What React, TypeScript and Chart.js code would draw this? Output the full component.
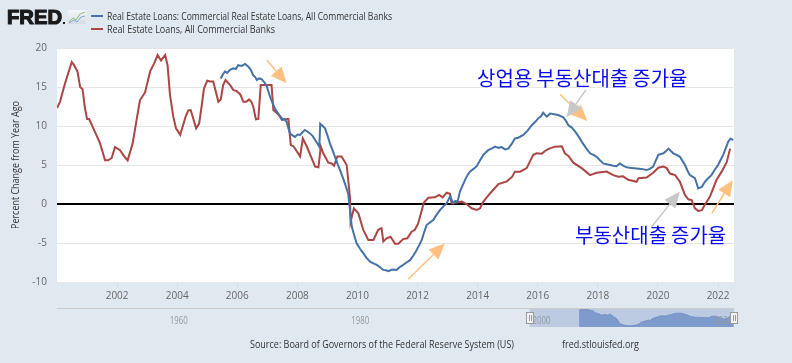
import React, { useEffect, useRef } from 'react';
import { Chart, registerables } from 'chart.js';
Chart.register(...registerables);

// ---------- data ----------
const seriesNames = [
  'Real Estate Loans: Commercial Real Estate Loans, All Commercial Banks',
  'Real Estate Loans, All Commercial Banks',
];
const seriesColors = ['#4572a7', '#aa4643'];

const X_MIN = 2000;
const X_MAX = 2022.53;
const Y_MIN = -10;
const Y_MAX = 20;
const Y_STEP = 5;
const xTickYears = [2002, 2004, 2006, 2008, 2010, 2012, 2014, 2016, 2018, 2020, 2022];

const NAV_MIN = 1947.9;
const NAV_MAX = 2022.53;
const navTickYears = [1960, 1980, 2000, 2020];
const navSelection = [2000, 2022.53];

const blueYears = [
  2005.45, 2005.52, 2005.59, 2005.66, 2005.76, 2005.87, 2005.95, 2006.03, 2006.15, 2006.26,
  2006.37, 2006.45, 2006.53, 2006.59, 2006.65, 2006.72, 2006.81, 2006.9, 2006.98, 2007.07,
  2007.11, 2007.25, 2007.36, 2007.48, 2007.56, 2007.64, 2007.75, 2007.84, 2007.92, 2008.0,
  2008.09, 2008.17, 2008.25, 2008.33, 2008.42, 2008.51, 2008.59, 2008.73, 2008.76, 2008.84,
  2008.92, 2009.0, 2009.08, 2009.17, 2009.25, 2009.33, 2009.42, 2009.5, 2009.58, 2009.69,
  2009.75, 2009.81, 2009.89, 2009.97, 2010.08, 2010.19, 2010.3, 2010.42, 2010.53, 2010.64,
  2010.75, 2010.86, 2010.95, 2011.03, 2011.15, 2011.3, 2011.4, 2011.52, 2011.63, 2011.75,
  2011.86, 2011.97, 2012.05, 2012.14, 2012.22, 2012.3, 2012.4, 2012.52, 2012.63, 2012.75,
  2012.86, 2012.97, 2013.08, 2013.19, 2013.26, 2013.33, 2013.41, 2013.5, 2013.58, 2013.66,
  2013.74, 2013.86, 2013.97, 2014.08, 2014.19, 2014.27, 2014.35, 2014.46, 2014.58, 2014.69,
  2014.8, 2014.91, 2015.02, 2015.13, 2015.24, 2015.35, 2015.52, 2015.66, 2015.8, 2015.91,
  2016.02, 2016.1, 2016.18, 2016.3, 2016.41, 2016.55, 2016.68, 2016.85, 2016.93, 2017.02,
  2017.13, 2017.24, 2017.35, 2017.46, 2017.6, 2017.74, 2017.85, 2017.96, 2018.07, 2018.18,
  2018.29, 2018.4, 2018.51, 2018.62, 2018.73, 2018.85, 2018.96, 2019.12, 2019.29, 2019.45,
  2019.62, 2019.73, 2019.84, 2019.93, 2020.01, 2020.1, 2020.18, 2020.27, 2020.35, 2020.43,
  2020.51, 2020.62, 2020.73, 2020.82, 2020.9, 2020.98, 2021.06, 2021.15, 2021.23, 2021.29,
  2021.34, 2021.4, 2021.46, 2021.56, 2021.67, 2021.78, 2021.89, 2022.0, 2022.08, 2022.17,
  2022.26, 2022.34, 2022.42, 2022.5,
];
const blueValues = [
  16.1, 16.6, 17.0, 16.8, 17.2, 17.4, 17.3, 17.8, 17.7, 17.95,
  17.6, 17.2, 16.5, 16.3, 15.9, 16.1, 16.0, 15.6, 15.1, 14.0,
  13.55, 12.25, 11.6, 10.8, 10.9, 10.55, 9.05, 8.8, 8.6, 8.9,
  8.85, 9.2, 9.5, 9.3, 9.05, 8.7, 8.2, 7.35, 10.3, 10.0,
  9.7, 8.8, 7.8, 6.9, 6.05, 5.2, 4.35, 3.5, 2.65, 1.35,
  -0.8, -2.9, -4.0, -5.05, -5.7, -6.3, -6.9, -7.4, -7.6, -7.8,
  -8.1, -8.45, -8.5, -8.6, -8.4, -8.45, -8.1, -7.8, -7.5, -7.2,
  -6.6, -5.9, -5.3, -4.6, -3.6, -2.7, -2.4, -2.05, -1.4, -0.75,
  -0.3, 0.1, 0.95, 0.1, 0.4, 0.3, 1.6, 2.4, 3.1, 3.7,
  4.15, 4.5, 4.85, 5.6, 6.3, 6.6, 6.9, 7.1, 7.35, 7.2,
  7.3, 7.0, 7.1, 7.7, 8.4, 8.5, 8.85, 9.4, 10.1, 10.5,
  11.0, 11.2, 11.7, 11.2, 11.6, 11.5, 11.4, 11.1, 10.7, 10.1,
  9.8, 9.3, 8.7, 8.0, 7.2, 6.5, 6.3, 6.05, 5.6, 5.2,
  5.1, 5.0, 4.9, 4.85, 5.2, 4.9, 4.7, 4.6, 4.55, 4.5,
  4.35, 4.5, 4.8, 5.6, 6.3, 6.4, 6.5, 6.8, 7.1, 6.8,
  6.5, 6.3, 6.05, 5.5, 5.0, 4.3, 3.7, 3.5, 3.3, 2.6,
  2.0, 2.1, 2.2, 2.85, 3.3, 3.7, 4.4, 5.0, 5.6, 6.3,
  7.2, 8.0, 8.4, 8.2,
];

const redYears = [
  2000.0, 2000.1, 2000.27, 2000.49, 2000.55, 2000.68, 2000.77, 2000.85, 2000.93, 2001.0,
  2001.07, 2001.21, 2001.43, 2001.6, 2001.7, 2001.82, 2001.93, 2002.1, 2002.23, 2002.35,
  2002.52, 2002.65, 2002.76, 2002.93, 2003.1, 2003.23, 2003.35, 2003.46, 2003.6, 2003.68,
  2003.76, 2003.87, 2003.96, 2004.1, 2004.28, 2004.37, 2004.45, 2004.63, 2004.73, 2004.82,
  2004.89, 2005.0, 2005.1, 2005.2, 2005.37, 2005.45, 2005.53, 2005.61, 2005.76, 2005.87,
  2005.97, 2006.1, 2006.2, 2006.3, 2006.39, 2006.47, 2006.53, 2006.62, 2006.7, 2006.78,
  2007.14, 2007.2, 2007.36, 2007.53, 2007.7, 2007.78, 2007.87, 2008.09, 2008.18, 2008.31,
  2008.59, 2008.7, 2008.78, 2008.86, 2009.03, 2009.14, 2009.22, 2009.33, 2009.47, 2009.64,
  2009.75, 2009.77, 2009.88, 2010.03, 2010.19, 2010.36, 2010.53, 2010.69, 2010.8, 2010.86,
  2010.97, 2011.1, 2011.25, 2011.36, 2011.52, 2011.66, 2011.8, 2011.91, 2012.02, 2012.14,
  2012.21, 2012.36, 2012.57, 2012.72, 2012.83, 2012.97, 2013.08, 2013.13, 2013.3, 2013.47,
  2013.63, 2013.8, 2013.97, 2014.08, 2014.19, 2014.41, 2014.69, 2014.97, 2015.15, 2015.24,
  2015.41, 2015.63, 2015.85, 2015.96, 2016.13, 2016.24, 2016.38, 2016.57, 2016.8, 2016.9,
  2017.02, 2017.18, 2017.46, 2017.74, 2017.96, 2018.29, 2018.51, 2018.68, 2018.84, 2019.01,
  2019.29, 2019.35, 2019.62, 2019.84, 2020.01, 2020.18, 2020.29, 2020.4, 2020.57, 2020.73,
  2020.9, 2021.01, 2021.12, 2021.23, 2021.34, 2021.46, 2021.56, 2021.73, 2021.95, 2022.12,
  2022.29, 2022.4,
];
const redValues = [
  12.3, 13.1, 15.5, 18.2, 17.9, 17.0, 15.0, 14.7, 12.3, 10.9,
  10.9, 9.7, 7.8, 5.6, 5.6, 5.9, 7.3, 6.9, 6.15, 5.6,
  7.8, 10.8, 13.3, 14.3, 17.0, 18.0, 19.1, 18.4, 19.1, 17.8,
  14.0, 11.2, 9.7, 8.85, 11.2, 12.0, 12.05, 9.7, 10.3, 12.7,
  14.8, 15.8, 15.7, 15.7, 13.1, 13.4, 15.25, 15.9, 15.25, 14.6,
  14.5, 14.05, 13.1, 13.1, 13.4, 13.1, 12.5, 10.85, 10.9, 15.25,
  15.25, 12.05, 11.5, 10.8, 10.9, 7.55, 7.4, 6.1, 8.4, 7.4,
  4.8, 4.7, 7.35, 6.5, 5.3, 5.2, 4.9, 6.1, 6.1, 5.0,
  0.9, -2.3, -0.55, -1.2, -3.3, -4.6, -4.6, -3.3, -3.1, -4.8,
  -4.4, -4.2, -5.1, -5.1, -4.5, -4.4, -3.55, -3.3, -2.5, -0.8,
  0.2, 0.8, 0.85, 1.15, 0.85, 1.45, 1.3, 0.1, 0.2, 0.3,
  0.0, -0.55, -0.75, -0.55, 0.3, 1.35, 2.55, 2.9, 3.5, 4.15,
  4.15, 4.6, 6.3, 6.5, 6.45, 6.8, 7.1, 7.35, 7.4, 6.5,
  6.15, 5.3, 4.6, 3.7, 4.0, 4.15, 3.7, 3.5, 3.55, 3.1,
  2.85, 3.3, 3.4, 4.0, 4.65, 4.8, 4.6, 3.9, 3.7, 2.85,
  1.15, 0.6, 0.5, -0.55, -0.9, -0.8, -0.1, 0.95, 3.1, 4.15,
  5.4, 7.1,
];

// annotations (anchored in data coordinates)
const noteTexts = ['상업용 부동산대출 증가율', '부동산대출 증가율'];
const noteX = [2013.98, 2017.24];
const noteY = [16.15, -3.97];

const arrowColors = ['#ffbf80', '#ffbf80', '#ffbf80', '#ffbf80', '#c8c8c8', '#c8c8c8'];
const arrowFromX = [2006.98, 2011.69, 2016.74, 2021.79, 2017.6, 2019.79];
const arrowFromY = [18.46, -9.65, 14.06, -1.19, 14.62, -2.91];
const arrowToX = [2007.64, 2012.91, 2017.65, 2022.49, 2016.96, 2020.73];
const arrowToY = [15.47, -5.04, 10.64, 3.08, 11.12, 1.58];

const sourceText = 'Source: Board of Governors of the Federal Reserve System (US)';
const siteText = 'fred.stlouisfed.org';
const yTitle = 'Percent Change from Year Ago';

const BG = '#e1e9f0';
const FONT = "'Open Sans', 'DejaVu Sans', sans-serif";

function toPoints(xs: number[], ys: number[]) {
  return xs.map((x, i) => ({ x, y: ys[i] }));
}

function drawArrow(ctx: CanvasRenderingContext2D, x1: number, y1: number, x2: number, y2: number, color: string) {
  const ang = Math.atan2(y2 - y1, x2 - x1);
  const headLen = 16;
  const headW = 7;
  const bx = x2 - headLen * Math.cos(ang);
  const by = y2 - headLen * Math.sin(ang);
  ctx.save();
  ctx.strokeStyle = color;
  ctx.fillStyle = color;
  ctx.lineWidth = 1.5;
  ctx.beginPath();
  ctx.moveTo(x1, y1);
  ctx.lineTo(bx, by);
  ctx.stroke();
  ctx.beginPath();
  ctx.moveTo(x2, y2);
  ctx.lineTo(bx + headW * Math.sin(ang), by - headW * Math.cos(ang));
  ctx.lineTo(bx - headW * Math.sin(ang), by + headW * Math.cos(ang));
  ctx.closePath();
  ctx.fill();
  ctx.restore();
}

const bgPlugin = {
  id: 'bgPlugin',
  beforeDraw(chart: any) {
    const { ctx, chartArea } = chart;
    ctx.save();
    ctx.fillStyle = BG;
    ctx.fillRect(0, 0, chart.width, chart.height);
    ctx.fillStyle = '#ffffff';
    ctx.fillRect(chartArea.left, chartArea.top, chartArea.right - chartArea.left, chartArea.bottom - chartArea.top);
    ctx.restore();
  },
};

const decorPlugin = {
  id: 'decorPlugin',
  afterDraw(chart: any) {
    const { ctx, scales } = chart;
    const xs = scales.x;
    const ys = scales.y;
    ctx.save();

    // FRED logo
    ctx.fillStyle = '#1a1a1a';
    ctx.strokeStyle = '#1a1a1a';
    ctx.lineWidth = 1.2;
    ctx.font = "bold 21px 'Liberation Sans', Arial, sans-serif";
    ctx.textBaseline = 'alphabetic';
    ctx.textAlign = 'left';
    ctx.fillText('FRED', 7, 24, 55);
    ctx.strokeText('FRED', 7, 24, 55);
    ctx.fillRect(63, 22, 2, 2);
    // small graph icon
    const g = ctx.createLinearGradient(68, 10, 68, 24);
    g.addColorStop(0, '#f4f7fa');
    g.addColorStop(1, '#d3dce6');
    ctx.fillStyle = g;
    ctx.fillRect(68, 10, 18, 14);
    ctx.lineWidth = 1;
    ctx.strokeStyle = '#8cc06a';
    ctx.beginPath();
    ctx.moveTo(69, 22); ctx.lineTo(73, 18); ctx.lineTo(76, 20); ctx.lineTo(80, 14); ctx.lineTo(85, 12);
    ctx.stroke();
    ctx.strokeStyle = '#7fa7d6';
    ctx.beginPath();
    ctx.moveTo(69, 23); ctx.lineTo(74, 20); ctx.lineTo(77, 22); ctx.lineTo(81, 17); ctx.lineTo(85, 16);
    ctx.stroke();

    // legend
    ctx.font = `11.5px ${FONT}`;
    ctx.textBaseline = 'middle';
    const legendY = [16, 29];
    const legendW = [285, 168];
    for (let i = 0; i < 2; i++) {
      ctx.strokeStyle = seriesColors[i];
      ctx.lineWidth = 2;
      ctx.beginPath();
      ctx.moveTo(91, legendY[i]);
      ctx.lineTo(103, legendY[i]);
      ctx.stroke();
      ctx.fillStyle = '#333333';
      ctx.fillText(seriesNames[i], 107, legendY[i] + 0.5, legendW[i]);
    }

    // y axis title
    ctx.save();
    ctx.translate(16, 165);
    ctx.rotate(-Math.PI / 2);
    ctx.textAlign = 'center';
    ctx.font = `11px ${FONT}`;
    ctx.fillStyle = '#333333';
    ctx.fillText(yTitle, 0, 0, 128);
    ctx.restore();

    // source
    ctx.font = `11px ${FONT}`;
    ctx.fillStyle = '#333333';
    ctx.textAlign = 'left';
    ctx.fillText(sourceText, 250, 345, 264);
    ctx.fillText(siteText, 562, 345, 77);

    // arrows
    for (let i = 0; i < arrowColors.length; i++) {
      drawArrow(
        ctx,
        xs.getPixelForValue(arrowFromX[i]), ys.getPixelForValue(arrowFromY[i]),
        xs.getPixelForValue(arrowToX[i]), ys.getPixelForValue(arrowToY[i]),
        arrowColors[i]
      );
    }

    // Korean annotations
    ctx.font = "20px 'Noto Sans CJK KR', sans-serif";
    ctx.fillStyle = '#0a0aee';
    ctx.textBaseline = 'middle';
    ctx.textAlign = 'left';
    for (let i = 0; i < noteTexts.length; i++) {
      let px = xs.getPixelForValue(noteX[i]);
      const py = ys.getPixelForValue(noteY[i]);
      const words = noteTexts[i].split(' ');
      for (const w of words) {
        ctx.fillText(w, px, py);
        px += ctx.measureText(w).width + 4;
      }
    }
    ctx.restore();
  },
};

const navPlugin = {
  id: 'navPlugin',
  beforeDatasetsDraw(chart: any) {
    const { ctx, chartArea, scales } = chart;
    const a = scales.x.getPixelForValue(navSelection[0]);
    const b = scales.x.getPixelForValue(navSelection[1]);
    ctx.save();
    ctx.fillStyle = 'rgba(102,133,194,0.3)';
    ctx.fillRect(a, chartArea.top, b - a, chartArea.bottom - chartArea.top);
    ctx.restore();
  },
  afterDraw(chart: any) {
    const { ctx, chartArea, scales } = chart;
    ctx.save();
    // top border
    ctx.strokeStyle = '#cccccc';
    ctx.lineWidth = 1;
    ctx.beginPath();
    ctx.moveTo(chartArea.left, 0.5);
    ctx.lineTo(chartArea.right, 0.5);
    ctx.stroke();
    // labels
    ctx.font = `10px ${FONT}`;
    ctx.fillStyle = '#999999';
    ctx.textBaseline = 'middle';
    ctx.textAlign = 'left';
    for (const v of navTickYears) {
      const px = scales.x.getPixelForValue(v);
      ctx.fillText(String(v), px + 3, 13, 18);
    }
    // handles
    for (const v of navSelection) {
      const px = Math.round(scales.x.getPixelForValue(v));
      ctx.fillStyle = '#f2f2f2';
      ctx.strokeStyle = '#999999';
      ctx.fillRect(px - 3.5, 4, 7, 11);
      ctx.strokeRect(px - 3.5, 4.5, 7, 11);
      ctx.beginPath();
      ctx.moveTo(px - 0.5, 7);
      ctx.lineTo(px - 0.5, 13);
      ctx.moveTo(px + 1.5, 7);
      ctx.lineTo(px + 1.5, 13);
      ctx.stroke();
    }
    ctx.restore();
  },
};

export default function App() {
  const mainRef = useRef<HTMLCanvasElement | null>(null);
  const navRef = useRef<HTMLCanvasElement | null>(null);

  useEffect(() => {
    if (!mainRef.current || !navRef.current) return;
    const main = new Chart(mainRef.current, {
      type: 'line',
      data: {
        datasets: [
          {
            label: seriesNames[0],
            data: toPoints(blueYears, blueValues),
            borderColor: seriesColors[0],
            borderWidth: 2,
            pointRadius: 0,
            tension: 0,
            fill: false,
          },
          {
            label: seriesNames[1],
            data: toPoints(redYears, redValues),
            borderColor: seriesColors[1],
            borderWidth: 2,
            pointRadius: 0,
            tension: 0,
            fill: false,
          },
        ],
      },
      options: {
        responsive: false,
        animation: false,
        events: [],
        layout: { padding: { left: 0, right: 58, top: 48, bottom: 0 } },
        plugins: { legend: { display: false }, tooltip: { enabled: false } },
        scales: {
          x: {
            type: 'linear',
            min: X_MIN,
            max: X_MAX,
            afterBuildTicks: (s: any) => {
              s.ticks = xTickYears.map((v) => ({ value: v }));
            },
            afterFit: (s: any) => {
              s.height = 81;
            },
            ticks: {
              callback: (v: any) => String(v),
              font: { family: FONT, size: 10 },
              color: '#666666',
              maxRotation: 0,
              autoSkip: false,
              padding: 2,
            },
            grid: { drawOnChartArea: false, drawTicks: true, tickLength: 6, color: '#d5dde6' },
            border: { display: false },
          },
          y: {
            min: Y_MIN,
            max: Y_MAX,
            afterFit: (s: any) => {
              s.width = 57;
            },
            ticks: {
              stepSize: Y_STEP,
              font: { family: FONT, size: 10 },
              color: '#666666',
              padding: 10,
            },
            grid: {
              color: (c: any) => (c.tick && c.tick.value === 0 ? '#000000' : '#e6e6e6'),
              lineWidth: (c: any) => (c.tick && c.tick.value === 0 ? 2 : 1),
              drawTicks: false,
            },
            border: { display: false },
          },
        },
      },
      plugins: [bgPlugin, decorPlugin],
    } as any);

    const nav = new Chart(navRef.current, {
      type: 'line',
      data: {
        datasets: [
          {
            data: toPoints(blueYears, blueValues),
            borderColor: '#6f8ec4',
            backgroundColor: '#7e9bcc',
            borderWidth: 1,
            pointRadius: 0,
            tension: 0,
            fill: 'start',
          },
        ],
      },
      options: {
        responsive: false,
        animation: false,
        events: [],
        layout: { padding: { left: 7, right: 8, top: 0, bottom: 0 } },
        plugins: { legend: { display: false }, tooltip: { enabled: false } },
        scales: {
          x: { type: 'linear', min: NAV_MIN, max: NAV_MAX, display: false },
          y: { min: -10.3, max: 19.8, display: false },
        },
      },
      plugins: [navPlugin],
    } as any);

    return () => {
      main.destroy();
      nav.destroy();
    };
  }, []);

  return (
    <div style={{ position: 'fixed', left: 0, top: 0, width: 792, height: 363, overflow: 'hidden', background: BG }}>
      <canvas ref={mainRef} width={792} height={363} style={{ position: 'absolute', left: 0, top: 0, width: 792, height: 363 }} />
      <canvas ref={navRef} width={692} height={19} style={{ position: 'absolute', left: 50, top: 308, width: 692, height: 19 }} />
    </div>
  );
}
